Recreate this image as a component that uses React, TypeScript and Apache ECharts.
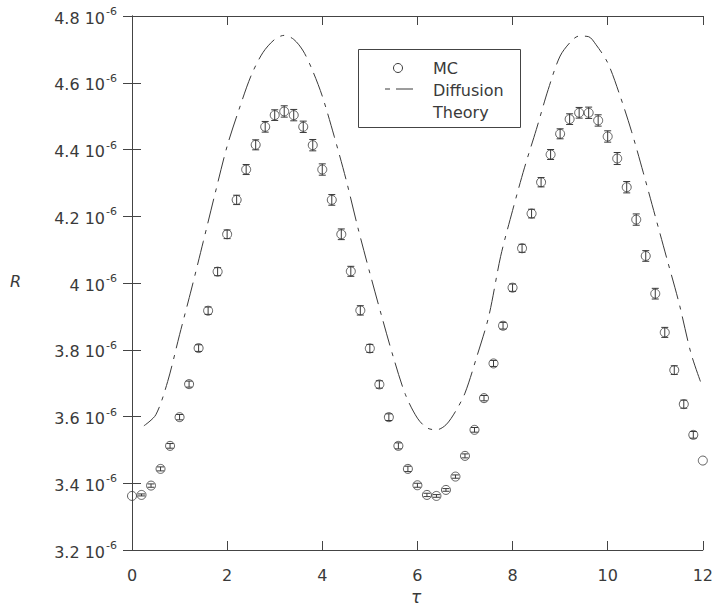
import React, { useEffect, useRef } from "react";
import * as echarts from "echarts";

// Monte Carlo reflectance R (units of 1e-6) sampled every 0.2 in tau
const mcTau = [
  0, 0.2, 0.4, 0.6, 0.8, 1.0, 1.2, 1.4, 1.6, 1.8, 2.0, 2.2, 2.4, 2.6, 2.8, 3.0,
  3.2, 3.4, 3.6, 3.8, 4.0, 4.2, 4.4, 4.6, 4.8, 5.0, 5.2, 5.4, 5.6, 5.8, 6.0,
  6.2, 6.4, 6.6, 6.8, 7.0, 7.2, 7.4, 7.6, 7.8, 8.0, 8.2, 8.4, 8.6, 8.8, 9.0,
  9.2, 9.4, 9.6, 9.8, 10.0, 10.2, 10.4, 10.6, 10.8, 11.0, 11.2, 11.4, 11.6,
  11.8, 12.0,
];
const mcR = [
  3.362, 3.365, 3.393, 3.443, 3.512, 3.598, 3.697, 3.805, 3.917, 4.034, 4.146,
  4.249, 4.34, 4.414, 4.468, 4.503, 4.514, 4.503, 4.468, 4.413, 4.34, 4.249,
  4.146, 4.035, 3.918, 3.804, 3.696, 3.598, 3.512, 3.443, 3.394, 3.365, 3.362,
  3.38, 3.42, 3.482, 3.56, 3.655, 3.759, 3.872, 3.986, 4.104, 4.208, 4.302,
  4.385, 4.447, 4.491, 4.51, 4.51, 4.487, 4.439, 4.373, 4.287, 4.19, 4.081,
  3.968, 3.852, 3.739, 3.637, 3.545, 3.468,
];
// one-sided statistical error of each MC point (units of 1e-6)
const mcErr = [
  0, 0.003, 0.005, 0.006, 0.007, 0.008, 0.009, 0.01, 0.011, 0.012, 0.013,
  0.014, 0.015, 0.015, 0.016, 0.016, 0.017, 0.017, 0.017, 0.017, 0.017, 0.016,
  0.016, 0.015, 0.014, 0.012, 0.011, 0.01, 0.009, 0.008, 0.006, 0.005, 0.004,
  0.004, 0.005, 0.006, 0.007, 0.008, 0.009, 0.01, 0.011, 0.012, 0.013, 0.014,
  0.015, 0.015, 0.016, 0.016, 0.017, 0.017, 0.017, 0.018, 0.017, 0.017, 0.016,
  0.016, 0.015, 0.013, 0.012, 0.01, 0,
];

// Diffusion theory curve
const dtTau = [
  0.25, 0.5, 0.75, 1.0, 1.25, 1.5, 1.75, 2.0, 2.25, 2.5, 2.75, 3.0, 3.2, 3.4,
  3.6, 3.8, 4.0, 4.25, 4.5, 4.75, 5.0, 5.25, 5.5, 5.75, 6.0, 6.2, 6.4, 6.6,
  6.8, 7.0, 7.25, 7.5, 7.75, 8.0, 8.25, 8.5, 8.75, 9.0, 9.25, 9.4, 9.6, 9.75,
  10.0, 10.25, 10.5, 10.75, 11.0, 11.25, 11.5, 11.75, 11.95,
];
const dtR = [
  3.572, 3.605, 3.705, 3.845, 3.982, 4.125, 4.27, 4.41, 4.52, 4.62, 4.69, 4.73,
  4.742, 4.73, 4.695, 4.635, 4.56, 4.44, 4.31, 4.165, 4.03, 3.9, 3.775, 3.665,
  3.595, 3.566, 3.56, 3.575, 3.615, 3.67, 3.78, 3.9, 4.08, 4.217, 4.345, 4.46,
  4.58, 4.68, 4.727, 4.74, 4.738, 4.715, 4.66, 4.565, 4.455, 4.33, 4.2, 4.07,
  3.94, 3.79, 3.705,
];

const xTicks = { min: 0, max: 12, interval: 2 };
const yTicks = { min: 3.2, max: 4.8, interval: 0.2 };

const FONT = "'DejaVu Sans', 'Liberation Sans', sans-serif";
const INK = "#3a3a3a";
const AXIS = "#444";

export default function App() {
  const ref = useRef<HTMLDivElement>(null);

  useEffect(() => {
    if (!ref.current) return;
    const chart = echarts.init(ref.current, null, { renderer: "svg" });

    const mcPoints = mcTau.map((t, i) => [t, mcR[i]]);
    const errBars = mcTau
      .map((t, i) => [t, mcR[i] - mcErr[i], mcR[i] + mcErr[i]])
      .filter((_, i) => mcErr[i] > 0);
    const theory = dtTau.map((t, i) => [t, dtR[i]]);

    const yLabel = (v: number) => `{a|${Number(v.toFixed(1))} 10}{b|-6}`;

    const grid = { left: 132, top: 16, width: 571, height: 534 };

    const baseAxisLine = { show: true, lineStyle: { color: AXIS, width: 1 } };
    const inTicks = { show: true, inside: true, length: 9, lineStyle: { color: AXIS } };

    chart.setOption({
      animation: false,
      backgroundColor: "#fff",
      grid,
      xAxis: [
        {
          type: "value",
          position: "bottom",
          ...xTicks,
          axisLine: baseAxisLine,
          axisTick: inTicks,
          splitLine: { show: false },
          axisLabel: { color: INK, fontFamily: FONT, fontSize: 16, margin: 17 },
        },
        {
          type: "value",
          position: "top",
          ...xTicks,
          axisLine: baseAxisLine,
          axisTick: inTicks,
          splitLine: { show: false },
          axisLabel: { show: false },
        },
      ],
      yAxis: [
        {
          type: "value",
          position: "left",
          ...yTicks,
          axisLine: baseAxisLine,
          axisTick: inTicks,
          splitLine: { show: false },
          axisLabel: {
            margin: 15,
            formatter: yLabel,
            rich: {
              a: { fontFamily: FONT, fontSize: 16, color: INK, verticalAlign: "bottom", lineHeight: 20 },
              b: { fontFamily: FONT, fontSize: 11, color: INK, verticalAlign: "top", lineHeight: 20, padding: [0, 0, 9, 1] },
            },
          },
        },
        {
          type: "value",
          position: "right",
          ...yTicks,
          axisLine: baseAxisLine,
          axisTick: inTicks,
          splitLine: { show: false },
          axisLabel: { show: false },
        },
      ],
      series: [
        {
          name: "Diffusion Theory",
          type: "line",
          data: theory,
          showSymbol: false,
          smooth: 0.3,
          lineStyle: { color: INK, width: 1, type: [25, 7, 4, 7] },
          z: 2,
        },
        {
          name: "MC error",
          type: "custom",
          data: errBars,
          encode: { x: 0, y: [1, 2] },
          renderItem: (params: any, api: any) => {
            const x = api.value(0);
            const lo = api.coord([x, api.value(1)]);
            const hi = api.coord([x, api.value(2)]);
            const w = 3.5;
            const style = { stroke: INK, lineWidth: 1 };
            return {
              type: "group",
              children: [
                { type: "line", shape: { x1: lo[0], y1: lo[1], x2: hi[0], y2: hi[1] }, style },
                { type: "line", shape: { x1: lo[0] - w, y1: lo[1], x2: lo[0] + w, y2: lo[1] }, style },
                { type: "line", shape: { x1: hi[0] - w, y1: hi[1], x2: hi[0] + w, y2: hi[1] }, style },
              ],
            };
          },
          z: 3,
        },
        {
          name: "MC",
          type: "scatter",
          data: mcPoints,
          symbol: "circle",
          symbolSize: 9,
          itemStyle: { color: "rgba(0,0,0,0)", borderColor: INK, borderWidth: 1 },
          z: 4,
        },
      ],
      graphic: [
        {
          type: "text",
          left: 10,
          top: 273,
          style: { text: "R", font: `italic 16px ${FONT}`, fill: INK },
        },
        {
          type: "text",
          left: 411,
          top: 588,
          style: { text: "τ", font: `italic 17px ${FONT}`, fill: INK },
        },
        // legend box
        {
          type: "rect",
          shape: { x: 358.5, y: 49.5, width: 162, height: 78 },
          style: { fill: "#fff", stroke: AXIS, lineWidth: 1 },
          z: 10,
        },
        {
          type: "circle",
          shape: { cx: 398, cy: 68, r: 4.5 },
          style: { fill: "none", stroke: INK, lineWidth: 1 },
          z: 11,
        },
        {
          type: "line",
          shape: { x1: 385, y1: 89, x2: 390, y2: 89 },
          style: { stroke: INK, lineWidth: 1 },
          z: 11,
        },
        {
          type: "line",
          shape: { x1: 396, y1: 89, x2: 413, y2: 89 },
          style: { stroke: INK, lineWidth: 1 },
          z: 11,
        },
        {
          type: "text",
          x: 433,
          y: 68,
          style: { text: "MC", font: `16px ${FONT}`, fill: INK, verticalAlign: "middle" },
          z: 11,
        },
        {
          type: "text",
          x: 433,
          y: 90,
          style: { text: "Diffusion", font: `16px ${FONT}`, fill: INK, verticalAlign: "middle" },
          z: 11,
        },
        {
          type: "text",
          x: 433,
          y: 112,
          style: { text: "Theory", font: `16px ${FONT}`, fill: INK, verticalAlign: "middle" },
          z: 11,
        },
      ],
    });

    return () => chart.dispose();
  }, []);

  return (
    <div
      ref={ref}
      style={{ position: "absolute", left: 0, top: 0, width: 716, height: 613 }}
    />
  );
}
